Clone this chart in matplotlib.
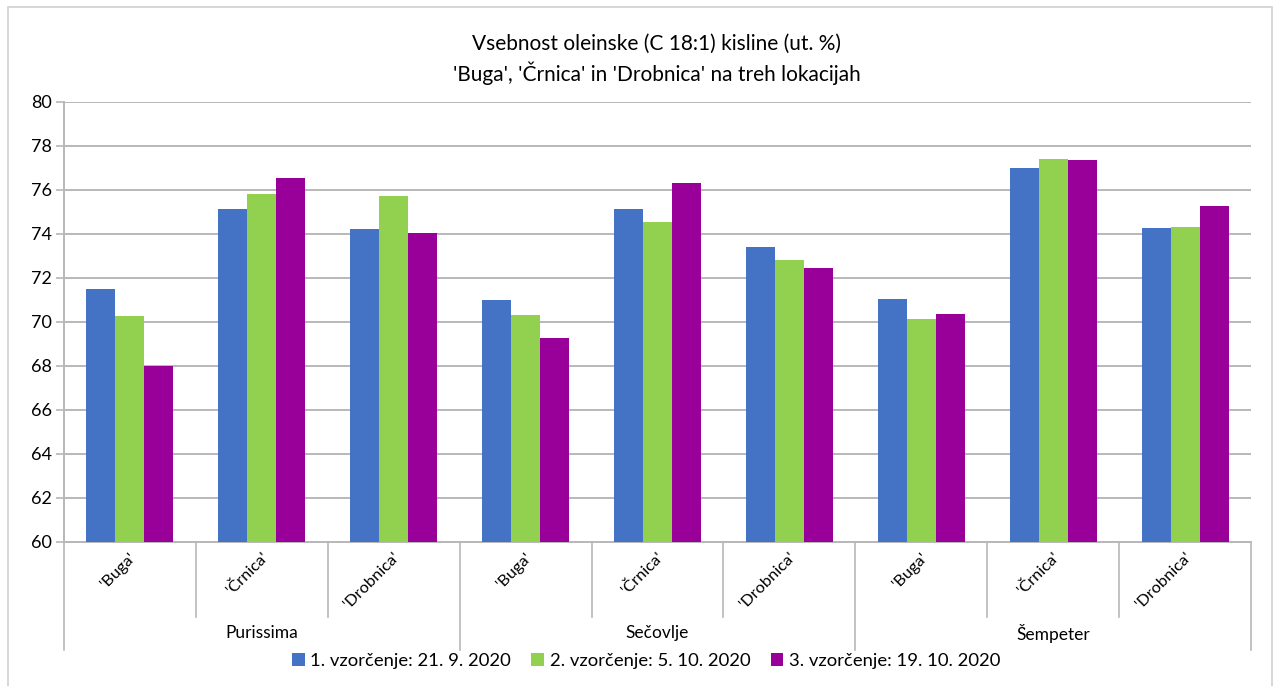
import matplotlib.pyplot as plt
import matplotlib.transforms as mtransforms
from matplotlib.patches import Rectangle
import numpy as np

plt.rcParams["font.family"] = ["Lato", "DejaVu Sans"]

# data
locations = ["Purissima", "Sečovlje", "Šempeter"]
cultivars = ["'Buga'", "'Črnica'", "'Drobnica'"]
series_names = ["1. vzorčenje: 21. 9. 2020",
                "2. vzorčenje: 5. 10. 2020",
                "3. vzorčenje: 19. 10. 2020"]
sample1 = [71.47, 75.11, 74.20, 70.97, 75.14, 73.38, 71.05, 77.00, 74.27]
sample2 = [70.27, 75.79, 75.70, 70.30, 74.52, 72.80, 70.15, 77.41, 74.32]
sample3 = [68.00, 76.52, 74.02, 69.26, 76.32, 72.44, 70.36, 77.33, 75.26]
colors = ["#4472C4", "#92D050", "#990099"]
y_ticks = [60, 62, 64, 66, 68, 70, 72, 74, 76, 78, 80]

W, H = 1276, 686
fig = plt.figure(figsize=(W / 100, H / 100), dpi=100)
ax = fig.add_axes([64 / W, 1 - 542 / H, (1251 - 64) / W, (542 - 101.7) / H])

# outer chart frame
fig.patches.append(Rectangle((8 / W, -0.01), (1272 - 8) / W, 1 - 7 / H + 0.01,
                             transform=fig.transFigure, fill=False,
                             edgecolor="#d0d0d0", linewidth=1.2))

n = len(sample1)
x = np.arange(n)
width = 0.22
for i, (vals, name) in enumerate(zip([sample1, sample2, sample3], series_names)):
    ax.bar(x + (i - 1) * width, [v - 60 for v in vals], width, bottom=60,
           color=colors[i], label=name, zorder=3)

ax.set_xlim(-0.5, n - 0.5)
ax.set_ylim(60, 80)
ax.set_yticks(y_ticks)
ax.yaxis.grid(True, color="#b8b8b8", linewidth=1.4, zorder=0)
ax.tick_params(axis="y", length=6, width=1.2, color="#b8b8b8", labelsize=13,
               pad=3)
ax.tick_params(axis="x", length=0, labelbottom=False)
for side in ["top", "right"]:
    ax.spines[side].set_visible(False)
for side in ["left", "bottom"]:
    ax.spines[side].set_color("#b8b8b8")
    ax.spines[side].set_linewidth(1.4)

# multi-level category axis
trans = mtransforms.blended_transform_factory(ax.transData, ax.transAxes)
labels = cultivars * len(locations)
for i, lab in enumerate(labels):
    ax.text(i + 0.03, -0.03, lab, transform=trans, rotation=45,
            rotation_mode="anchor", ha="right", va="center", fontsize=11.8)
for k in range(n + 1):
    edge = k - 0.5
    depth = -0.245 if k % 3 == 0 else -0.17
    ax.plot([edge, edge], [0, depth], transform=trans, color="#b8b8b8",
            linewidth=1.2, clip_on=False)
for g, loc in enumerate(locations):
    ax.text(g * 3 + 1, -0.207, loc, transform=trans, ha="center",
            va="center", fontsize=12.5)

fig.text(657 / W, 1 - 44 / H, "Vsebnost oleinske (C 18:1) kisline (ut. %)",
         ha="center", va="center", fontsize=15)
fig.text(657 / W, 1 - 73 / H, "'Buga', 'Črnica' in 'Drobnica' na treh lokacijah",
         ha="center", va="center", fontsize=15)

fig.legend(loc="center", bbox_to_anchor=(646 / W, 1 - 661 / H), ncol=3,
           frameon=False, fontsize=13.3, handlelength=0.7, handleheight=0.7,
           handletextpad=0.3, columnspacing=1.1)

fig.savefig("out.png", dpi=100)
